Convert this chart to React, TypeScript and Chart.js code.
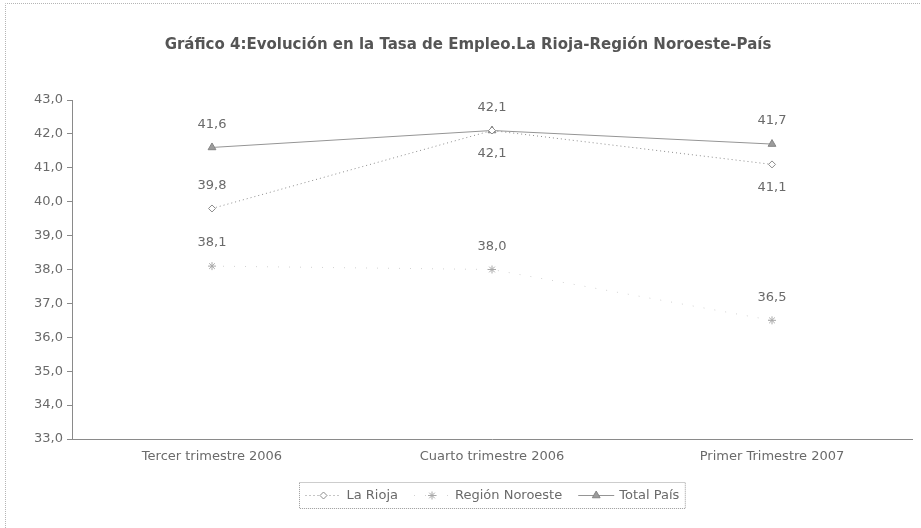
import { useEffect, useRef } from 'react';
import { Chart, registerables } from 'chart.js';
import { drawPoint } from 'chart.js/helpers';

Chart.register(...registerables);

const chartTitle = 'Gráfico 4:Evolución en la Tasa de Empleo.La Rioja-Región Noroeste-País';
const categories = ['Tercer trimestre 2006', 'Cuarto trimestre 2006', 'Primer Trimestre 2007'];
const seriesNames = ['La Rioja', 'Región Noroeste', 'Total País'];
const laRioja = [39.8, 42.1, 41.1];
const regionNoroeste = [38.1, 38.0, 36.5];
const totalPais = [41.6, 42.1, 41.7];
const yMin = 33;
const yMax = 43;
const yStep = 1;

const FONT = '"DejaVu Sans", "Liberation Sans", Arial, sans-serif';
const TEXT = '#6a6a6a';

const fmt = (v: number) => v.toFixed(1).replace('.', ',');

const framePlugin = {
  id: 'frame',
  beforeDraw(chart: any) {
    const ctx = chart.ctx;
    ctx.save();
    ctx.strokeStyle = '#b5b5b5';
    ctx.lineWidth = 1;
    ctx.setLineDash([1, 1]);
    ctx.beginPath();
    ctx.moveTo(5.5, chart.height);
    ctx.lineTo(5.5, 3.5);
    ctx.lineTo(chart.width, 3.5);
    ctx.stroke();
    ctx.restore();
  },
};

const titlePlugin = {
  id: 'customTitle',
  afterDraw(chart: any) {
    const ctx = chart.ctx;
    const a = chart.chartArea;
    ctx.save();
    ctx.font = 'bold 15px ' + FONT;
    ctx.fillStyle = '#555';
    ctx.textAlign = 'center';
    ctx.textBaseline = 'middle';
    ctx.fillText(chartTitle, (a.left + a.right) / 2 - 24, 45);
    ctx.restore();
  },
};

const valueLabelPlugin = {
  id: 'valueLabels',
  afterDatasetsDraw(chart: any) {
    const ctx = chart.ctx;
    ctx.save();
    ctx.font = '13px ' + FONT;
    ctx.fillStyle = TEXT;
    ctx.textAlign = 'center';
    ctx.textBaseline = 'middle';
    chart.data.datasets.forEach((ds: any, i: number) => {
      const meta = chart.getDatasetMeta(i);
      meta.data.forEach((pt: any, j: number) => {
        const below = ds.labelBelow && ds.labelBelow[j];
        ctx.fillText(fmt(ds.data[j]), pt.x, pt.y + (below ? 23 : -23));
      });
    });
    ctx.restore();
  },
};

const legendPlugin = {
  id: 'boxLegend',
  afterDraw(chart: any) {
    const ctx = chart.ctx;
    const a = chart.chartArea;
    ctx.save();
    ctx.font = '13px ' + FONT;
    const sampleW = 36;
    const gapText = 5;
    const gapItem = 16;
    const padX = 6;
    const dss = chart.data.datasets;
    const widths = dss.map((d: any) => ctx.measureText(d.label).width);
    let total = padX * 2;
    widths.forEach((w: number, i: number) => {
      total += sampleW + gapText + w + (i < widths.length - 1 ? gapItem : 0);
    });
    const left = Math.round((a.left + a.right) / 2 - total / 2) + 0.5;
    const top = 482.5;
    const h = 26;
    ctx.strokeStyle = '#9a9a9a';
    ctx.lineWidth = 1;
    ctx.setLineDash([1, 1]);
    ctx.strokeRect(left, top, total, h);
    const cy = top + h / 2;
    let x = left + padX;
    dss.forEach((d: any, i: number) => {
      ctx.save();
      ctx.strokeStyle = d.borderColor;
      ctx.lineWidth = d.borderWidth;
      ctx.setLineDash(d.borderDash || []);
      ctx.beginPath();
      ctx.moveTo(x, cy);
      ctx.lineTo(x + sampleW, cy);
      ctx.stroke();
      ctx.setLineDash([]);
      ctx.fillStyle = d.pointBackgroundColor;
      ctx.strokeStyle = d.pointBorderColor;
      ctx.lineWidth = 1;
      drawPoint(ctx, { pointStyle: d.pointStyle, radius: d.pointRadius, borderWidth: 1, rotation: 0 }, x + sampleW / 2, cy);
      ctx.restore();
      ctx.fillStyle = TEXT;
      ctx.textBaseline = 'middle';
      ctx.textAlign = 'left';
      ctx.fillText(d.label, x + sampleW + gapText, cy);
      x += sampleW + gapText + widths[i] + gapItem;
    });
    ctx.restore();
  },
};

export default function App() {
  const ref = useRef<HTMLCanvasElement | null>(null);

  useEffect(() => {
    document.body.style.margin = '0';
    if (!ref.current) return;
    const chart = new Chart(ref.current, {
      type: 'line',
      data: {
        labels: categories,
        datasets: [
          {
            label: seriesNames[0],
            data: laRioja,
            borderColor: '#8c8c8c',
            borderWidth: 1,
            borderDash: [1, 3],
            pointStyle: 'rectRot',
            pointRadius: 3.5,
            pointBackgroundColor: '#ffffff',
            pointBorderColor: '#8c8c8c',
            labelBelow: [false, true, true],
          } as any,
          {
            label: seriesNames[1],
            data: regionNoroeste,
            borderColor: '#d2d2d2',
            borderWidth: 1,
            borderDash: [1, 10],
            pointStyle: 'star',
            pointRadius: 4,
            pointBackgroundColor: '#bdbdbd',
            pointBorderColor: '#a8a8a8',
            labelBelow: [false, false, false],
          } as any,
          {
            label: seriesNames[2],
            data: totalPais,
            borderColor: '#959595',
            borderWidth: 1,
            pointStyle: 'triangle',
            pointRadius: 4.5,
            pointBackgroundColor: '#9c9c9c',
            pointBorderColor: '#858585',
            labelBelow: [false, false, false],
          } as any,
        ],
      },
      options: {
        animation: false,
        responsive: true,
        maintainAspectRatio: false,
        layout: { padding: { left: 5, right: 9, top: 100, bottom: 49 } },
        plugins: {
          legend: { display: false },
          title: { display: false },
          tooltip: { enabled: false },
        },
        scales: {
          x: {
            type: 'category',
            offset: true,
            grid: { display: true, drawOnChartArea: false, drawTicks: false },
            border: { display: true, color: '#8a8a8a', width: 1 },
            ticks: { color: TEXT, font: { family: FONT, size: 13 }, padding: 10, maxRotation: 0 },
            afterFit(scale: any) {
              scale.height = 40;
            },
          },
          y: {
            min: yMin,
            max: yMax,
            ticks: {
              stepSize: yStep,
              color: TEXT,
              font: { family: FONT, size: 13 },
              padding: 4,
              callback: (v: any) => fmt(Number(v)),
            },
            grid: { display: true, drawOnChartArea: false, drawTicks: true, tickLength: 5, color: '#8a8a8a' },
            border: { display: true, color: '#8a8a8a', width: 1 },
            afterFit(scale: any) {
              scale.width = 67;
            },
          },
        },
      },
      plugins: [framePlugin, titlePlugin, valueLabelPlugin, legendPlugin],
    });
    return () => chart.destroy();
  }, []);

  return (
    <div style={{ width: 921, height: 528, position: 'relative' }}>
      <canvas ref={ref} />
    </div>
  );
}
